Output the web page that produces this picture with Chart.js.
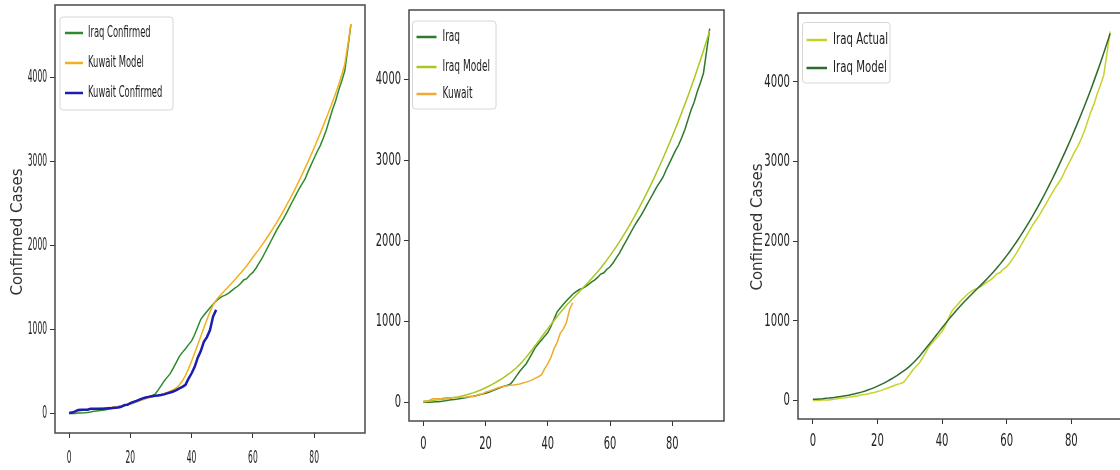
<!DOCTYPE html>
<html>
<head>
<meta charset="utf-8">
<script src="https://cdn.jsdelivr.net/npm/chart.js@4.4.1/dist/chart.umd.min.js"></script>
<style>
  html, body { margin: 0; padding: 0; background: #fff; width: 1120px; height: 470px; overflow: hidden; }
  canvas { position: absolute; top: 0; }
</style>
</head>
<body>
<canvas id="c1" width="372" height="470" style="left:0"></canvas>
<canvas id="c2" width="363" height="470" style="left:372px"></canvas>
<canvas id="c3" width="390" height="470" style="left:735px"></canvas>
<script>
// --- data ---
const xTicks = [0, 20, 40, 60, 80];
const yTicks = [0, 1000, 2000, 3000, 4000];

const iraqConfirmed = [
  1, 1, 1, 5, 7, 8, 13, 19, 26, 31,
  35, 40, 46, 54, 60, 71, 75, 83, 93, 101,
  112, 124, 140, 154, 170, 186, 200, 212, 226, 275,
  330, 385, 430, 475, 540, 610, 680, 728, 772, 820,
  865, 940, 1031, 1122, 1170, 1215, 1260, 1300, 1340, 1370,
  1395, 1410, 1430, 1460, 1490, 1515, 1548, 1590, 1606, 1650,
  1680, 1730, 1790, 1850, 1920, 1990, 2060, 2130, 2200, 2260,
  2320, 2390, 2460, 2530, 2600, 2670, 2730, 2790, 2880, 2960,
  3040, 3120, 3190, 3280, 3380, 3500, 3620, 3720, 3850, 3960,
  4080, 4350, 4632
];

const kuwaitConfirmed = [
  5, 11, 26, 43, 45, 45, 46, 56, 56, 56,
  58, 58, 61, 64, 65, 69, 72, 80, 100, 104,
  125, 138, 150, 165, 180, 190, 198, 205, 212, 215,
  220, 228, 240, 250, 262, 278, 300, 317, 342, 417,
  479, 556, 665, 743, 855, 910, 993, 1154, 1234
];

const kuwaitModel = [
  8, 15, 22, 30, 36, 42, 47, 51, 55, 58,
  61, 64, 67, 71, 75, 80, 86, 93, 101, 110,
  120, 131, 142, 153, 165, 176, 187, 197, 207, 217,
  227, 238, 250, 265, 283, 306, 340, 390, 455, 535,
  625, 720, 820, 920, 1020, 1120, 1210, 1290, 1350, 1392,
  1432, 1471, 1510, 1549, 1589, 1630, 1672, 1715, 1759, 1810,
  1860, 1908, 1957, 2008, 2060, 2114, 2170, 2228, 2288, 2350,
  2414, 2480, 2548, 2618, 2690, 2764, 2840, 2918, 2998, 3080,
  3164, 3250, 3338, 3428, 3520, 3614, 3710, 3810, 3915, 4030,
  4160, 4390, 4640
];

const iraqModel = [
  15, 17, 20, 23, 27, 31, 36, 41, 47, 53,
  60, 67, 75, 84, 94, 105, 117, 131, 146, 162,
  180, 199, 219, 241, 264, 288, 313, 340, 368, 398,
  432, 470, 512, 557, 605, 655, 706, 758, 810, 862,
  914, 965, 1015, 1064, 1112, 1158, 1202, 1245, 1287, 1328,
  1368, 1408, 1448, 1489, 1531, 1574, 1619, 1666, 1715, 1766,
  1819, 1874, 1931, 1990, 2051, 2114, 2179, 2246, 2315, 2386,
  2459, 2534, 2611, 2690, 2771, 2854, 2939, 3026, 3115, 3206,
  3299, 3394, 3491, 3590, 3691, 3795, 3902, 4012, 4125, 4241,
  4360, 4482, 4608
];

const days = iraqConfirmed.map((_, i) => i);

// matplotlib-like 5% margins
const xMin = -4.6, xMax = 96.6;
const yMin = -232, yMax = 4864;

// text squeezed sideways like the reference
function squash(ctx, text, x, y, sx, align) {
  ctx.save();
  ctx.translate(x, y);
  ctx.scale(sx, 1);
  ctx.textAlign = align;
  ctx.fillText(text, 0, 0);
  ctx.restore();
}

// frame, tick labels, axis title and boxed legend
const mplDecor = {
  id: 'mplDecor',
  afterDraw(chart, args, o) {
    const ctx = chart.ctx, a = chart.chartArea;
    const xs = chart.scales.x, ys = chart.scales.y;
    ctx.save();
    ctx.strokeStyle = '#4a4a4a';
    ctx.lineWidth = 1.5;
    ctx.strokeRect(a.left, a.top, a.right - a.left, a.bottom - a.top);

    ctx.fillStyle = '#222';
    ctx.font = '18px "DejaVu Sans"';
    ctx.textBaseline = 'middle';
    ys.ticks.forEach(t => squash(ctx, String(t.value), a.left - 8, ys.getPixelForValue(t.value), o.tickSx, 'right'));
    xs.ticks.forEach(t => squash(ctx, String(t.value), xs.getPixelForValue(t.value), a.bottom + o.xLabelDy, o.tickSx, 'center'));

    if (o.title) {
      ctx.save();
      ctx.translate(o.title.x, o.title.y);
      ctx.rotate(-Math.PI / 2);
      ctx.font = '15px "DejaVu Sans"';
      ctx.fillStyle = '#333';
      ctx.textAlign = 'center';
      ctx.fillText(o.title.text, 0, 0);
      ctx.restore();
    }

    const lg = o.legend;
    ctx.fillStyle = 'rgba(255,255,255,0.85)';
    ctx.strokeStyle = '#d6d6d6';
    ctx.lineWidth = 1;
    ctx.beginPath();
    ctx.roundRect(lg.x, lg.y, lg.w, lg.h, 3);
    ctx.fill();
    ctx.stroke();
    ctx.font = '15px "DejaVu Sans"';
    chart.data.datasets.forEach((ds, i) => {
      const y = lg.rows[i];
      ctx.strokeStyle = ds.borderColor;
      ctx.lineWidth = 2.5;
      ctx.beginPath();
      ctx.moveTo(lg.swatch[0], y);
      ctx.lineTo(lg.swatch[1], y);
      ctx.stroke();
      ctx.fillStyle = '#222';
      squash(ctx, ds.label, lg.textX, y, lg.sx, 'left');
    });
    ctx.restore();
  }
};

function makeChart(id, datasets, cfg) {
  return new Chart(document.getElementById(id), {
    type: 'line',
    data: { labels: days, datasets },
    options: {
      responsive: false,
      animation: false,
      layout: { padding: { top: cfg.top, right: cfg.right, left: 0, bottom: 0 } },
      elements: { point: { radius: 0 }, line: { borderWidth: 1.5, tension: 0 } },
      plugins: { legend: { display: false }, tooltip: { enabled: false }, mplDecor: cfg },
      scales: {
        x: {
          type: 'linear', min: xMin, max: xMax,
          afterBuildTicks: s => { s.ticks = xTicks.map(v => ({ value: v })); },
          afterFit: s => { s.height = cfg.xAxisH; },
          ticks: { display: false },
          grid: { drawOnChartArea: false, tickLength: 5, color: '#333' },
          border: { display: false }
        },
        y: {
          min: yMin, max: yMax,
          afterBuildTicks: s => { s.ticks = yTicks.map(v => ({ value: v })); },
          afterFit: s => { s.width = cfg.yAxisW; },
          ticks: { display: false },
          grid: { drawOnChartArea: false, tickLength: 5, color: '#333' },
          border: { display: false }
        }
      }
    },
    plugins: [mplDecor]
  });
}

// A. Iraq confirmed vs Kuwait
makeChart('c1', [
  { label: 'Iraq Confirmed', data: iraqConfirmed, borderColor: '#2e8b2e', order: 3 },
  { label: 'Kuwait Model', data: kuwaitModel, borderColor: '#f2b01e', order: 2 },
  { label: 'Kuwait Confirmed', data: kuwaitConfirmed, borderColor: '#1c1cb0', borderWidth: 2.5, order: 1 }
], {
  top: 5, right: 7, yAxisW: 55, xAxisH: 37, tickSx: 0.42, xLabelDy: 25,
  title: { text: 'Confirmed Cases', x: 18, y: 232 },
  legend: { x: 60, y: 17, w: 113, h: 93, rows: [33, 63, 93], swatch: [65, 83], textX: 88, sx: 0.56 }
});

// B. Iraq, Iraq model, Kuwait
makeChart('c2', [
  { label: 'Iraq', data: iraqConfirmed, borderColor: '#2d7a2d', order: 3 },
  { label: 'Iraq Model', data: iraqModel, borderColor: '#a8c820', order: 2 },
  { label: 'Kuwait', data: kuwaitConfirmed, borderColor: '#eeaa33', order: 1 }
], {
  top: 10, right: 11, yAxisW: 37, xAxisH: 49, tickSx: 0.55, xLabelDy: 23,
  legend: { x: 40.5, y: 21, w: 83.5, h: 88, rows: [37, 67, 94], swatch: [44.5, 64.5], textX: 70.5, sx: 0.6 }
});

// C. Iraq actual vs model
makeChart('c3', [
  { label: 'Iraq Actual', data: iraqConfirmed, borderColor: '#c6d42a', order: 2 },
  { label: 'Iraq Model', data: iraqModel, borderColor: '#2e6b2e', order: 1 }
], {
  top: 13, right: 0, yAxisW: 63, xAxisH: 51, tickSx: 0.56, xLabelDy: 22,
  title: { text: 'Confirmed Cases', x: 23, y: 227 },
  legend: { x: 67.5, y: 22.5, w: 87.5, h: 60.5, rows: [40, 68], swatch: [71.5, 92], textX: 98, sx: 0.68 }
});
</script>
</body>
</html>
